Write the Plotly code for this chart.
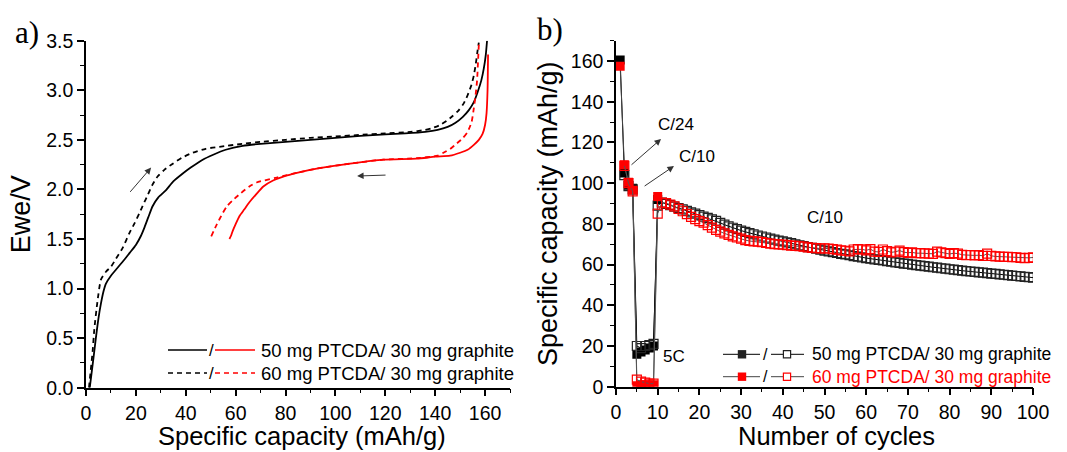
import plotly.graph_objects as go

# ---------------- Panel a) : charge / discharge profiles ----------------
chg50_x = [1.5, 2, 3, 4, 5, 6, 7, 8, 10, 12, 15, 17.5, 20, 22, 23.5, 25, 26.7, 29, 32, 35, 38.8, 42, 46.8, 51, 56,
           62.8, 70, 80, 90, 100, 110, 120, 128, 136, 141, 145, 148, 151, 153.5, 155.5, 157, 158.5, 159.5, 160.3, 160.8]
chg50_y = [0, 0.1, 0.3, 0.51, 0.7, 0.85, 0.97, 1.05, 1.13, 1.19, 1.28, 1.36, 1.44, 1.53, 1.62, 1.72, 1.83, 1.92, 1.99,
           2.08, 2.16, 2.22, 2.30, 2.35, 2.40, 2.44, 2.46, 2.48, 2.50, 2.52, 2.54, 2.555, 2.565, 2.58, 2.60, 2.63, 2.67,
           2.73, 2.80, 2.88, 2.98, 3.10, 3.22, 3.36, 3.5]

chg60_x = [1.2, 1.8, 2.7, 3.3, 4.5, 6, 8, 10, 12, 14.7, 17.4, 19.5, 21.4, 23, 24.7, 26.5, 28.7, 31.5, 34.8, 38.5, 42.8,
           48, 53.5, 62.8, 70, 80, 90, 100, 110, 120, 130, 136, 139, 142, 144.5, 147, 149.5, 151.5, 153, 154.5, 155.5,
           156.3, 157, 157.5]
chg60_y = [0, 0.15, 0.38, 0.58, 0.85, 1.09, 1.17, 1.22, 1.3, 1.41, 1.56, 1.66, 1.76, 1.85, 1.94, 2.04, 2.13, 2.2, 2.26,
           2.32, 2.37, 2.41, 2.43, 2.46, 2.48, 2.50, 2.52, 2.535, 2.55, 2.565, 2.58, 2.6, 2.62, 2.65, 2.69, 2.74, 2.8,
           2.87, 2.95, 3.05, 3.15, 3.27, 3.4, 3.48]

dis50_x = [161.2, 161.0, 160.6, 160.0, 159.0, 157.5, 155.5, 153, 150, 146, 140, 132.6, 119.2, 105.9, 92.5, 85, 79.1,
           75, 71.1, 68.2, 65.5, 63.5, 61.5, 60, 58.8, 58.1, 57.5]
dis50_y = [3.36, 3.0, 2.77, 2.65, 2.56, 2.50, 2.45, 2.40, 2.37, 2.34, 2.33, 2.31, 2.30, 2.26, 2.21, 2.17, 2.13, 2.09,
           2.03, 1.95, 1.87, 1.80, 1.73, 1.65, 1.58, 1.53, 1.50]

dis60_x = [157.5, 157.2, 156.8, 156.2, 155.5, 154.6, 153, 150.8, 148, 146.1, 143.3, 141, 132.6, 119.2, 105.9, 92.5, 85,
           76.5, 68.4, 65.5, 62, 58.8, 56.5, 54.8, 52.5, 50.1]
dis60_y = [3.46, 3.3, 3.1, 2.95, 2.82, 2.68, 2.58, 2.51, 2.45, 2.41, 2.37, 2.34, 2.315, 2.30, 2.26, 2.21, 2.17, 2.12,
           2.07, 2.03, 1.96, 1.89, 1.83, 1.76, 1.65, 1.52]

# ---------------- Panel b) : cycling ----------------
cyc_filled = [1, 2, 3, 4, 5, 6, 7, 8, 9, 10]
b50_filled = [160.5, 105, 99, 97.5, 16, 17, 18, 19, 20, 92]
r60_filled = [157.5, 109, 100.5, 96.5, 0.5, 1, 1, 1, 1, 93.5]

cyc_open = list(range(2, 101))
b50_open = [104, 98.5, 97, 20, 19, 20, 20.5, 21, 89,
            90.5, 89.8, 89.2, 88.5, 87.8, 87.1, 86.4, 85.7, 85, 84.3,
            83.6, 82.9, 82.2, 81.5, 80.5, 79.6, 78.8, 78.1, 77.4, 76.7,
            76.1, 75.5, 74.9, 74.3, 73.8, 73.3, 72.8, 72.3, 71.8, 71.4,
            70.9, 70.5, 70.0, 69.5, 69.1, 68.6, 68.2, 67.8, 67.3, 66.9,
            66.5, 66.1, 65.7, 65.3, 65.0, 64.6, 64.2, 63.9, 63.5, 63.2,
            62.9, 62.6, 62.3, 62.0, 61.7, 61.4, 61.1, 60.8, 60.5, 60.3,
            60.0, 59.7, 59.5, 59.2, 59.0, 58.7, 58.5, 58.2, 58.0, 57.7,
            57.5, 57.3, 57.0, 56.8, 56.6, 56.4, 56.2, 56.0, 55.8, 55.6,
            55.4, 55.2, 55.0, 54.8, 54.6, 54.4, 54.2, 54.0, 53.8, 53.6]
r60_open = [108.5, 100, 96, 3.5, 2.5, 2, 1.5, 1.5, 85,
            90.5, 90.2, 89.5, 88.6, 87.4, 86.2, 84.8, 83.4, 82.3, 81.4,
            80.6, 79.4, 78.2, 77.1, 76.2, 75.3, 74.6, 73.9, 73.3, 72.8,
            72.0, 71.6, 71.4, 71.3, 71.0, 70.6, 70.3, 70.1, 69.9, 69.8,
            69.6, 69.3, 69.2, 69.0, 68.8, 68.5, 68.2, 68.1, 67.9, 68.0,
            67.9, 67.6, 67.3, 67.0, 66.8, 66.5, 67.4, 67.6, 67.5, 67.0,
            67.6, 66.4, 66.2, 67.4, 66.6, 66.0, 66.3, 66.9, 66.1, 65.8,
            66.0, 65.6, 65.6, 65.5, 65.4, 65.3, 66.4, 66.0, 65.6, 65.2,
            65.6, 65.4, 64.8, 64.6, 64.7, 64.5, 64.6, 64.3, 65.4, 64.3,
            64.0, 63.9, 63.8, 63.8, 63.7, 63.6, 63.3, 63.2, 63.3, 63.5]

legend_labels = ["50 mg PTCDA/ 30 mg graphite", "60 mg PTCDA/ 30 mg graphite"]
x_titles = ["Specific capacity (mAh/g)", "Number of cycles"]

W, H = 1067, 452
FONT = "Liberation Sans, Arial, sans-serif"
RED = "#ff0000"

fig = go.Figure()

spl = dict(shape="spline", smoothing=0.6)
fig.add_trace(go.Scatter(x=chg50_x, y=chg50_y, mode="lines", line=dict(color="black", width=1.8, **spl),
                         xaxis="x", yaxis="y", showlegend=False))
fig.add_trace(go.Scatter(x=chg60_x, y=chg60_y, mode="lines", line=dict(color="black", width=1.8, dash="5px,4px", **spl),
                         xaxis="x", yaxis="y", showlegend=False))
fig.add_trace(go.Scatter(x=dis50_x, y=dis50_y, mode="lines", line=dict(color=RED, width=1.8, **spl),
                         xaxis="x", yaxis="y", showlegend=False))
fig.add_trace(go.Scatter(x=dis60_x, y=dis60_y, mode="lines", line=dict(color=RED, width=1.8, dash="5px,4px", **spl),
                         xaxis="x", yaxis="y", showlegend=False))

MS = 9
fig.add_trace(go.Scatter(x=cyc_filled, y=b50_filled, mode="lines+markers",
                         line=dict(color="black", width=1),
                         marker=dict(symbol="square", size=MS, color="black"),
                         xaxis="x2", yaxis="y2", showlegend=False))
fig.add_trace(go.Scatter(x=cyc_open, y=b50_open, mode="lines+markers",
                         line=dict(color="black", width=1),
                         marker=dict(symbol="square-open", size=MS, color="#222", line=dict(width=1.2)),
                         xaxis="x2", yaxis="y2", showlegend=False))
fig.add_trace(go.Scatter(x=cyc_filled, y=r60_filled, mode="lines+markers",
                         line=dict(color="#444", width=1),
                         marker=dict(symbol="square", size=MS, color=RED),
                         xaxis="x2", yaxis="y2", showlegend=False))
fig.add_trace(go.Scatter(x=cyc_open, y=r60_open, mode="lines+markers",
                         line=dict(color="#555", width=1),
                         marker=dict(symbol="square-open", size=MS, color=RED, line=dict(width=1.2)),
                         xaxis="x2", yaxis="y2", showlegend=False))

axis_common = dict(showline=True, linecolor="black", linewidth=1.5, ticks="outside", ticklen=7, tickwidth=1.5,
                   tickcolor="black", showgrid=False, zeroline=False, mirror=False, automargin=False,
                   tickfont=dict(family=FONT, size=19.5, color="black"))

fig.update_layout(
    width=W, height=H, margin=dict(l=0, r=0, t=0, b=0),
    paper_bgcolor="white", plot_bgcolor="white",
    font=dict(family=FONT, color="black"),
    xaxis=dict(domain=[86 / W, 510 / W], range=[0, 170], dtick=20, tick0=0, anchor="y",
               minor=dict(dtick=10, ticklen=4, tickwidth=1.2, ticks="outside", tickcolor="black"),
               **axis_common),
    yaxis=dict(domain=[1 - 387.7 / H, 1 - 40.7 / H], range=[0, 3.5], dtick=0.5, tick0=0, tickformat=".1f",
               anchor="x",
               minor=dict(dtick=0.25, ticklen=4, tickwidth=1.2, ticks="outside", tickcolor="black"),
               title=dict(text="Ewe/V", font=dict(family=FONT, size=27), standoff=8),
               **axis_common),
    xaxis2=dict(domain=[616 / W, 1033 / W], range=[0, 100], dtick=10, tick0=0, anchor="y2",
                minor=dict(dtick=5, ticklen=4, tickwidth=1.2, ticks="outside", tickcolor="black"),
                **axis_common),
    yaxis2=dict(domain=[1 - 386.7 / H, 1 - 40.7 / H], range=[0, 170], dtick=20, tick0=0, anchor="x2",
                minor=dict(dtick=10, ticklen=4, tickwidth=1.2, ticks="outside", tickcolor="black"),
                title=dict(text="Specific capacity (mAh/g)", font=dict(family=FONT, size=27), standoff=5),
                **axis_common),
)

ann = []
mid = dict(xanchor="center", yanchor="middle")
# x-axis titles
ann.append(dict(text=x_titles[0], x=302 / W, y=0, xref="paper", yref="paper", showarrow=False,
                xanchor="center", yanchor="bottom", font=dict(family=FONT, size=25.5, color="black")))
ann.append(dict(text=x_titles[1], x=836 / W, y=0, xref="paper", yref="paper", showarrow=False,
                xanchor="center", yanchor="bottom", font=dict(family=FONT, size=25.5, color="black")))
# panel labels
ann.append(dict(text="a)", x=27 / W, y=1 - 33 / H, xref="paper", yref="paper", showarrow=False,
                font=dict(family="Liberation Serif, Times New Roman, serif", size=31, color="black"), **mid))
ann.append(dict(text="b)", x=550 / W, y=1 - 30 / H, xref="paper", yref="paper", showarrow=False,
                font=dict(family="Liberation Serif, Times New Roman, serif", size=31, color="black"), **mid))

arrow_style = dict(showarrow=True, arrowhead=2, arrowsize=1.3, arrowwidth=1, arrowcolor="#333", text="")
# panel a arrows
ann.append(dict(x=26.1, y=2.22, ax=17.2, ay=1.96, xref="x", yref="y", axref="x", ayref="y", **arrow_style))
ann.append(dict(x=108.7, y=2.135, ax=120.7, ay=2.145, xref="x", yref="y", axref="x", ayref="y", **arrow_style))
# panel b arrows
ann.append(dict(x=10.8, y=121.7, ax=3.36, ay=108.4, xref="x2", yref="y2", axref="x2", ayref="y2", **arrow_style))
ann.append(dict(x=13.9, y=108.4, ax=6.5, ay=98.1, xref="x2", yref="y2", axref="x2", ayref="y2", **arrow_style))

txt_font = dict(family=FONT, size=17, color="black")
for t, x, y in [("C/24", 14.4, 129), ("C/10", 19.5, 113.3), ("C/10", 50.2, 82.9), ("5C", 13.9, 14.6)]:
    ann.append(dict(text=t, x=x, y=y, xref="x2", yref="y2", showarrow=False, font=txt_font, **mid))

shapes = []
# ---- legend panel a ----
rows_a = [350, 373]
for i, py in enumerate(rows_a):
    yy = 1 - py / H
    dash = "solid" if i == 0 else "5px,4px"
    shapes.append(dict(type="line", xref="paper", yref="paper", x0=168 / W, x1=207 / W, y0=yy, y1=yy,
                       line=dict(color="black", width=1.5, dash=dash)))
    shapes.append(dict(type="line", xref="paper", yref="paper", x0=215 / W, x1=255 / W, y0=yy, y1=yy,
                       line=dict(color=RED, width=1.5, dash=dash)))
    ann.append(dict(text="/", x=211 / W, y=yy, xref="paper", yref="paper", showarrow=False,
                    font=dict(family=FONT, size=17, color="black"), **mid))
    ann.append(dict(text=legend_labels[i], x=259 / W, y=yy, xref="paper", yref="paper", showarrow=False,
                    xanchor="left", yanchor="middle", font=dict(family=FONT, size=18.5, color="black")))

# ---- legend panel b ----
rows_b = [354.3, 376.7]
cols = [("black", "#222", "black"), ("#444", RED, RED)]
half = 4.2
for i, py in enumerate(rows_b):
    yy = 1 - py / H
    lc, mc, tc = cols[i]
    shapes.append(dict(type="line", xref="paper", yref="paper", x0=723 / W, x1=760 / W, y0=yy, y1=yy,
                       line=dict(color=lc, width=1)))
    shapes.append(dict(type="line", xref="paper", yref="paper", x0=771 / W, x1=804 / W, y0=yy, y1=yy,
                       line=dict(color=lc, width=1)))
    shapes.append(dict(type="rect", xref="paper", yref="paper", x0=(742 - half) / W, x1=(742 + half) / W,
                       y0=yy - half / H, y1=yy + half / H, fillcolor=mc, line=dict(color=mc, width=0)))
    shapes.append(dict(type="rect", xref="paper", yref="paper", x0=(787 - half + 0.6) / W, x1=(787 + half - 0.6) / W,
                       y0=yy - (half - 0.6) / H, y1=yy + (half - 0.6) / H, fillcolor="white",
                       line=dict(color=mc, width=1.2)))
    ann.append(dict(text="/", x=765.5 / W, y=yy, xref="paper", yref="paper", showarrow=False,
                    font=dict(family=FONT, size=16, color="black"), **mid))
    ann.append(dict(text=legend_labels[i], x=810 / W, y=yy, xref="paper", yref="paper", showarrow=False,
                    xanchor="left", yanchor="middle", font=dict(family=FONT, size=17.5, color=tc)))

fig.update_layout(annotations=ann, shapes=shapes)
fig.write_html("out.html")
